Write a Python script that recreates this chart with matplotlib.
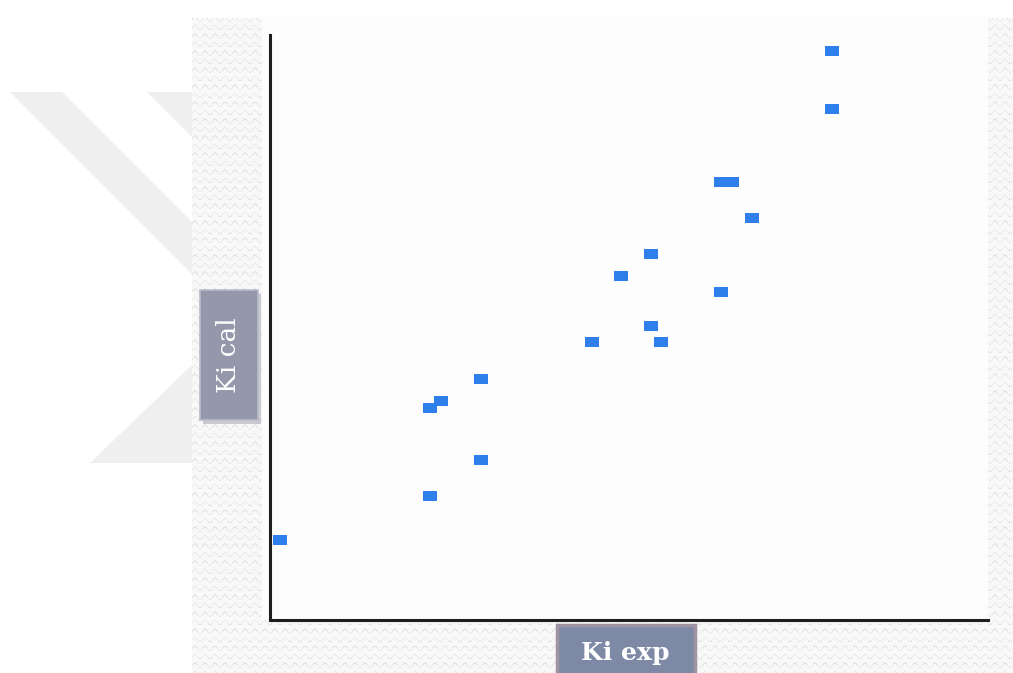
import matplotlib
matplotlib.use("Agg")
import matplotlib.pyplot as plt
import numpy as np
from matplotlib.patches import Rectangle, Polygon
from matplotlib.path import Path

# Experimental vs calculated Ki values
ki_exp = [0.14, 2.23, 2.23, 2.38, 2.94, 2.94, 4.48, 4.89, 5.31, 5.31, 5.45,
          6.28, 6.28, 6.43, 6.71, 7.83, 7.83]
ki_cal = [1.37, 2.12, 3.62, 3.74, 4.12, 2.74, 4.75, 5.88, 6.26, 5.02, 4.75,
          5.61, 7.49, 7.49, 6.87, 9.73, 8.74]

W, H = 1013, 673
fig = plt.figure(figsize=(W / 100, H / 100), dpi=100)
fig.patch.set_facecolor("white")

# background layer in pixel coordinates (y grows downward)
bg = fig.add_axes([0, 0, 1, 1], zorder=-5)
bg.set_xlim(0, W)
bg.set_ylim(H, 0)
bg.axis("off")

# faint "X" mark at the left
wm = "#efefef"
bg.add_patch(Polygon([(10, 92), (62, 92), (192, 222), (192, 274)], color=wm, lw=0))
bg.add_patch(Polygon([(147, 92), (192, 92), (192, 137)], color=wm, lw=0))
bg.add_patch(Polygon([(90, 463), (192, 463), (192, 365)], color=wm, lw=0))

# wavy textured panel
yy, xx = np.mgrid[0:655, 0:821]
phase = 2.2 * np.sin(2 * np.pi * xx / 10.0)
wave = ((yy + phase) % 8.5) < 1.4
tex = np.where(wave, 0.905, 0.972)
bg.imshow(tex, cmap="gray", vmin=0, vmax=1, extent=(192, 1013, 673, 18),
          interpolation="bilinear", aspect="auto", zorder=1)
bg.add_patch(Rectangle((262, 17), 726, 603, facecolor="#fdfdfd", lw=0, zorder=2))

# y label box
bg.add_patch(Rectangle((203, 294), 58, 130, facecolor="#c9c9cf", lw=0, zorder=3))
bg.add_patch(Rectangle((200, 290), 58, 130, facecolor="#9598ab",
                       edgecolor="#b9bbc9", lw=1.2, zorder=4))
bg.text(229, 355, "Ki cal", rotation=90, ha="center", va="center",
        color="white", fontsize=19, family="DejaVu Serif", zorder=5)

# x label box
bg.add_patch(Rectangle((557, 625), 138, 60, facecolor="#7e8aa5",
                       edgecolor="#a093a2", lw=2.5, zorder=4))
bg.text(625, 653, "Ki exp", ha="center", va="center", color="white",
        fontsize=18, fontweight="bold", family="DejaVu Serif", zorder=5)

# main plot area
ax = fig.add_axes([270 / W, 53 / H, (988 - 270) / W, (620 - 35) / H])
ax.patch.set_alpha(0)
for side in ("top", "right"):
    ax.spines[side].set_visible(False)
for side in ("left", "bottom"):
    ax.spines[side].set_linewidth(2.2)
    ax.spines[side].set_color("#1e1e1e")
ax.set_xticks([])
ax.set_yticks([])
ax.set_xlim(0, 10)
ax.set_ylim(0, 10)

rect = Path([(-0.7, -0.5), (0.7, -0.5), (0.7, 0.5), (-0.7, 0.5), (-0.7, -0.5)],
            [Path.MOVETO, Path.LINETO, Path.LINETO, Path.LINETO, Path.CLOSEPOLY])
ax.plot(ki_exp, ki_cal, linestyle="", marker=rect, markersize=10.2,
        color="#2e7fe9", markeredgewidth=0, clip_on=False)

plt.savefig("out.png", dpi=100)
